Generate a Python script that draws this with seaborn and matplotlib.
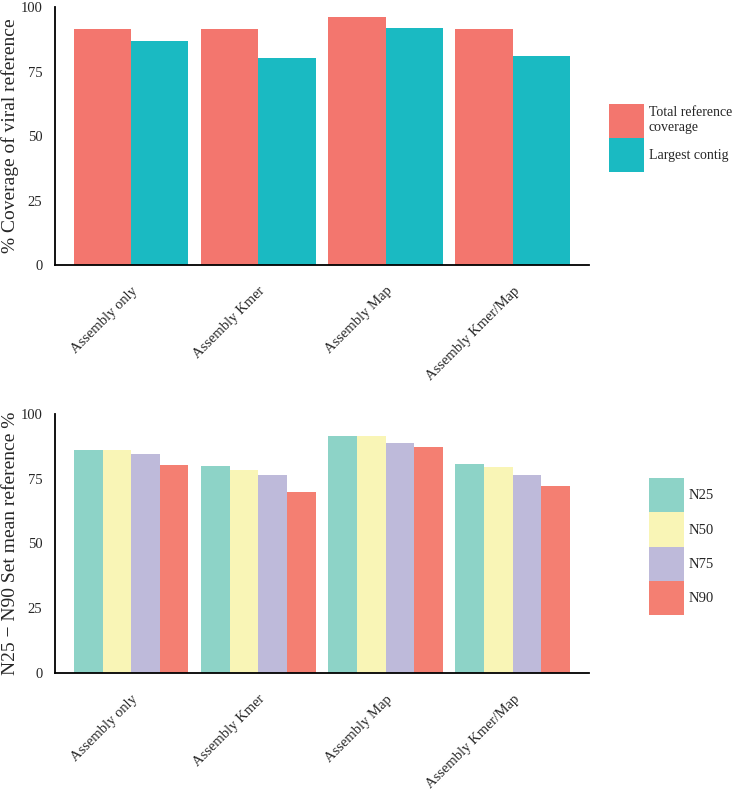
import pandas as pd
import matplotlib.pyplot as plt
import seaborn as sns
from matplotlib.patches import Patch

# Data
methods = ["Assembly only", "Assembly Kmer", "Assembly Map", "Assembly Kmer/Map"]
total_cov = [91.4, 91.6, 96.0, 91.5]
largest_contig = [86.8, 80.2, 92.0, 81.1]

n_labels = ["N25", "N50", "N75", "N90"]
n25 = [86.1, 79.8, 91.5, 80.6]
n50 = [86.0, 78.4, 91.4, 79.5]
n75 = [84.4, 76.2, 88.7, 76.4]
n90 = [80.2, 69.9, 87.0, 72.2]

cov_labels = ["Total reference\ncoverage", "Largest contig"]
cov_colors = ["#F3766E", "#1ABAC2"]
n_colors = ["#8DD3C7", "#F9F5B6", "#BEBADA", "#F47F72"]

df_cov = pd.DataFrame({
    "method": methods * 2,
    "value": total_cov + largest_contig,
    "kind": [cov_labels[0]] * 4 + [cov_labels[1]] * 4,
})
df_n = pd.DataFrame({
    "method": methods * 4,
    "value": n25 + n50 + n75 + n90,
    "kind": [lab for lab in n_labels for _ in methods],
})

sns.set_style("white")
plt.rcParams["font.family"] = ["Liberation Serif", "DejaVu Serif"]

fig = plt.figure(figsize=(7.39, 7.91), dpi=100)
ax1 = fig.add_axes([0.0744, 0.665, 0.7225, 0.326])
ax2 = fig.add_axes([0.0744, 0.149, 0.7225, 0.328])


def style_axis(ax, ylabel):
    ax.set_ylim(0, 100)
    ax.set_xlim(-0.6, 3.6)
    ax.set_yticks([0, 25, 50, 75, 100])
    ax.set_ylabel(ylabel, fontsize=14)
    ax.yaxis.set_label_coords(-0.068, 0.5)
    ax.set_xlabel("")
    ax.tick_params(axis="both", length=0, labelsize=10.5)
    ax.tick_params(axis="x", pad=14)
    ax.tick_params(axis="y", pad=9)
    for lab in ax.get_xticklabels():
        lab.set_rotation(45)
        lab.set_ha("right")
        lab.set_va("top")
        lab.set_rotation_mode("anchor")
    for s in ["top", "right"]:
        ax.spines[s].set_visible(False)
    for s in ["left", "bottom"]:
        ax.spines[s].set_color("black")
        ax.spines[s].set_linewidth(1.3)
    if ax.get_legend() is not None:
        ax.get_legend().remove()


# -----------------------------------
# Top panel: coverage
# -----------------------------------
sns.barplot(data=df_cov, x="method", y="value", hue="kind", order=methods,
            hue_order=cov_labels, palette=cov_colors, width=0.9,
            saturation=1, errorbar=None, linewidth=0, ax=ax1)
style_axis(ax1, "% Coverage of viral reference")

handles = [Patch(facecolor=c, edgecolor="none") for c in cov_colors]
fig.legend(handles, cov_labels, loc="upper left", bbox_to_anchor=(0.824, 0.8685),
           frameon=False, fontsize=10, handlelength=2.52, handleheight=3.4,
           labelspacing=0, handletextpad=0.36, borderpad=0, borderaxespad=0)

# -----------------------------------
# Bottom panel: N25 - N90
# -----------------------------------
sns.barplot(data=df_n, x="method", y="value", hue="kind", order=methods,
            hue_order=n_labels, palette=n_colors, width=0.9,
            saturation=1, errorbar=None, linewidth=0, ax=ax2)
style_axis(ax2, "N25 \u2212 N90 Set mean reference %")

handles = [Patch(facecolor=c, edgecolor="none") for c in n_colors]
fig.legend(handles, n_labels, loc="upper left", bbox_to_anchor=(0.878, 0.3957),
           frameon=False, fontsize=10.5, handlelength=2.4, handleheight=3.24,
           labelspacing=0, handletextpad=0.3, borderpad=0, borderaxespad=0)

fig.savefig("out.png", dpi=100)
